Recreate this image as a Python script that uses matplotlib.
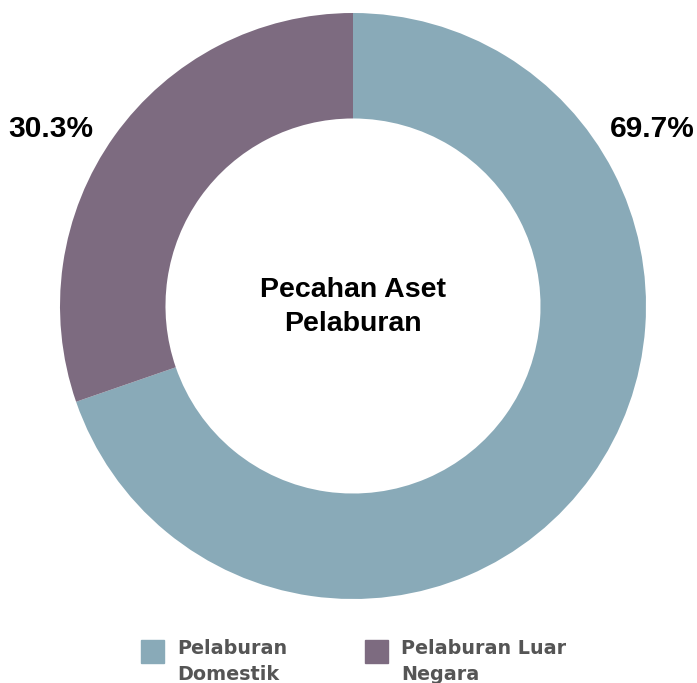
import matplotlib
matplotlib.use("Agg")
import matplotlib.pyplot as plt
from matplotlib.patches import Rectangle

# data
categories = ["Pelaburan Domestik", "Pelaburan Luar Negara"]
legend_labels = ["Pelaburan\nDomestik", "Pelaburan Luar\nNegara"]
shares = [69.7, 30.3]
colors = ["#89aab8", "#7d6b80"]
center_title = "Pecahan Aset\nPelaburan"

W, H = 697, 683
fig = plt.figure(figsize=(W / 100, H / 100), dpi=100)

# donut centred at (353, 306) px, outer radius 293 px
cx, cy, r = 353, 306, 293
ax = fig.add_axes([(cx - r) / W, (H - cy - r) / H, 2 * r / W, 2 * r / H])
ax.pie(shares, colors=colors, startangle=90, counterclock=False,
       radius=1, wedgeprops=dict(width=0.36, edgecolor="none"))
ax.set_xlim(-1, 1)
ax.set_ylim(-1, 1)
ax.set_aspect("equal")
ax.axis("off")

font = ["Liberation Sans", "DejaVu Sans"]
ax.text(0, -0.005, center_title, ha="center", va="center", fontsize=20.5,
        fontweight="bold", family=font, linespacing=1.4)

# percentage labels
ax.text(1.02, 0.605, f"{shares[0]}%", ha="center", va="center", fontsize=21.5,
        fontweight="bold", family=font, clip_on=False)
ax.text(-1.03, 0.605, f"{shares[1]}%", ha="center", va="center", fontsize=21.5,
        fontweight="bold", family=font, clip_on=False)

# legend drawn by hand
box_x = [141, 365]
for i, lab in enumerate(legend_labels):
    fig.patches.append(Rectangle((box_x[i] / W, (H - 663) / H), 23 / W, 23 / H,
                                 transform=fig.transFigure, color=colors[i]))
    fig.text((box_x[i] + 36) / W, (H - 639) / H, lab, ha="left", va="top",
             fontsize=13.8, fontweight="bold", color="#555555",
             family="DejaVu Sans", linespacing=1.45)

fig.savefig("out.png", dpi=100)
